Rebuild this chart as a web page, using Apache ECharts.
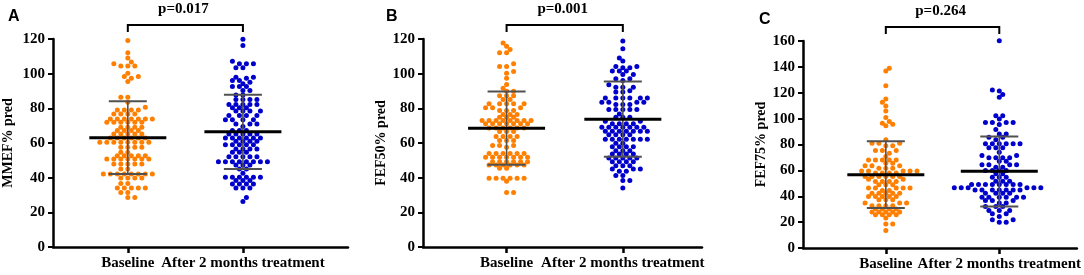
<!DOCTYPE html>
<html><head><meta charset="utf-8">
<script src="https://cdn.jsdelivr.net/npm/echarts@6/dist/echarts.min.js"></script>
<style>html,body{margin:0;padding:0;background:#fff}#c{width:1084px;height:275px}</style>
</head><body><div id="c"></div>
<script>
// ---------- DATA ----------
const categories = ['Baseline', 'After 2 months treatment'];
const panelLetters = ['A', 'B', 'C'];
const pValues = ['p=0.017', 'p=0.001', 'p=0.264'];
const yNames = ['MMEF% pred', 'FEF50% pred', 'FEF75% pred'];
const yMax = [120, 120, 160];
const yInterval = [20, 20, 20];

const mmefBaseline = [119.2, 112.0, 109.0, 106.7, 105.7, 104.4, 104.4, 104.4, 100.3, 98.4, 98.4, 97.4, 95.5,
  86.4, 86.4, 83.5, 80.6, 79.1, 79.1, 79.1, 79.1, 76.8, 76.8, 76.8, 76.8,
  73.9, 73.9, 73.9, 73.9, 73.9, 73.9, 73.9, 72.0, 72.0, 72.0, 72.0, 72.0, 72.0,
  69.1, 69.1, 69.1, 69.1, 67.2, 67.2, 67.2, 67.2, 65.2, 65.2, 65.2, 65.2, 65.2,
  62.9, 62.9, 62.9, 62.9, 62.9, 62.9, 60.4, 60.4, 60.4, 60.4, 60.4, 60.4, 60.4, 60.4,
  57.5, 57.5, 57.5, 57.5, 54.6, 54.6, 52.7, 52.7, 52.7, 52.7, 52.7,
  50.8, 50.8, 50.8, 50.8, 50.8, 50.8, 50.8, 47.9, 47.9, 47.9, 47.9, 47.9, 45.0, 45.0,
  42.1, 42.1, 42.1, 42.1, 42.1, 42.1, 42.1, 42.1, 39.8, 39.8, 39.8, 39.8, 36.7, 36.7,
  34.0, 34.0, 34.0, 34.0, 34.0, 31.5, 31.5, 28.6, 28.6];
const mmefAfter = [119.8, 116.3, 107.1, 105.7, 105.7, 105.7, 103.4, 103.4,
  98.0, 98.0, 97.4, 96.1, 96.1, 95.1, 94.2, 92.6, 92.6, 92.6, 90.3, 90.3, 87.7, 87.7,
  85.1, 85.1, 85.1, 85.1, 82.2, 82.2, 82.2, 82.2, 82.2, 80.3, 80.3, 80.3,
  78.4, 78.4, 78.4, 78.4, 75.9, 75.9, 75.9, 75.9, 73.4, 73.4, 73.4, 73.4,
  71.0, 71.0, 71.0, 69.5, 67.2, 67.2, 67.2, 65.2, 65.2, 65.2, 65.2, 65.2,
  62.9, 62.9, 62.9, 62.9, 62.9, 62.9, 61.0, 61.0, 61.0, 61.0, 59.0, 59.0, 59.0, 59.0, 59.0,
  56.5, 56.5, 56.5, 56.5, 54.6, 54.6, 54.6, 52.1, 52.1, 52.1, 52.1, 52.1,
  49.2, 49.2, 49.2, 49.2, 49.2, 49.2, 49.2, 49.2, 47.3, 47.3, 47.3, 45.0, 45.0, 42.5,
  40.2, 40.2, 40.2, 40.2, 40.2, 40.2, 38.3, 38.3, 38.3, 36.4, 36.4, 36.4, 36.4,
  34.0, 34.0, 34.0, 28.6, 26.3];
const fef50Baseline = [117.7, 115.8, 114.0, 112.1, 112.1, 105.7, 104.2, 104.2, 101.3, 100.3, 97.4, 93.8, 91.6,
  89.9, 89.9, 87.2, 87.2, 87.2, 85.1, 85.1, 82.6, 82.6, 82.6, 82.6, 82.6, 80.3, 80.3, 80.3,
  78.8, 78.8, 78.8, 76.5, 76.5, 76.5, 74.9, 74.9, 74.9,
  73.0, 73.0, 73.0, 73.0, 73.0, 73.0, 73.0, 73.0, 71.1, 71.1, 71.1, 71.1, 71.1, 71.1, 71.1,
  68.6, 68.6, 68.6, 68.6, 68.6, 68.6, 66.6, 66.6, 66.6, 63.7, 63.7, 63.7, 63.7,
  61.4, 61.4, 61.4, 58.5, 58.5, 58.5, 57.5, 54.0, 54.0, 54.0, 54.0, 54.0, 54.0,
  51.8, 51.8, 51.8, 51.8, 51.8, 51.8, 51.8, 49.2, 49.2, 49.2, 49.2, 49.2, 49.2,
  47.3, 47.3, 47.3, 47.3, 47.3, 47.3, 45.4, 45.4,
  39.6, 39.6, 39.6, 39.6, 39.6, 39.6, 37.9, 31.5, 31.5];
const fef50After = [118.9, 114.4, 109.0, 107.3, 104.2, 104.2, 103.4, 103.4, 101.5, 101.5, 101.5, 99.5, 99.5,
  97.0, 97.0, 96.0, 93.6, 92.2, 92.2, 92.2, 90.2, 89.4, 89.4,
  85.9, 85.9, 85.9, 85.9, 85.9, 85.9, 83.5, 83.5, 83.5, 83.5, 82.2, 82.2, 82.2,
  79.3, 79.3, 79.3, 79.3, 79.3, 76.8, 74.9, 74.9, 74.9, 72.6, 72.6, 71.1, 71.1, 71.1, 71.1,
  69.1, 69.1, 69.1, 69.1, 69.1, 69.1, 69.1, 66.8, 66.8, 66.8, 66.8, 66.8, 66.8, 66.8,
  64.7, 64.7, 64.7, 64.7, 62.2, 62.2, 62.2, 62.2, 62.2, 62.2, 62.2, 59.9, 59.9,
  57.9, 57.9, 57.9, 57.9, 55.6, 55.6, 55.6, 53.7, 53.7, 53.7, 53.7,
  51.4, 51.4, 51.4, 51.4, 51.4, 49.2, 49.2, 49.2, 49.2, 46.9, 46.9, 46.9,
  45.0, 45.0, 45.0, 43.7, 43.7, 41.2, 41.2, 38.3, 38.3, 34.0];
const fef75Baseline = [138.9, 136.8, 125.5, 115.2, 112.6, 109.8, 105.9, 100.8, 97.7, 96.5, 95.6, 94.4, 83.6,
  81.0, 81.0, 81.0, 79.0, 79.0, 75.3, 75.3, 75.3, 73.3, 70.7, 68.1, 68.1, 68.1, 68.1, 68.1,
  65.6, 65.6, 63.5, 63.5, 63.5, 61.7, 61.7, 61.7, 59.6, 59.6, 59.6, 59.6, 59.6,
  57.9, 57.9, 57.9, 57.9, 55.3, 55.3, 55.3, 55.3, 55.3, 55.3, 53.2, 53.2,
  51.4, 51.4, 51.4, 51.4, 48.8, 48.8, 48.8, 46.3, 46.3, 46.3, 46.3, 46.3, 44.5, 44.5,
  42.4, 42.4, 42.4, 42.4, 42.4, 39.9, 39.9, 39.9, 39.9, 39.9, 37.3, 37.3, 37.3,
  34.7, 34.7, 34.7, 32.7, 32.7, 32.7, 32.7, 30.1, 30.1, 30.1, 30.1,
  27.8, 27.8, 27.8, 27.8, 27.8, 25.7, 25.7, 25.7, 25.7, 23.2, 18.5, 18.5, 13.6];
const fef75After = [160.2, 122.1, 121.4, 118.6, 116.5, 102.3, 102.3, 99.7, 97.1, 97.1, 97.1, 97.1, 95.4, 91.5,
  88.2, 88.2, 85.6, 85.6, 83.6, 80.5, 80.5, 80.5, 80.5, 80.5, 80.5, 77.4, 77.4, 77.4, 74.1,
  71.5, 71.5, 69.7, 69.7, 69.7, 69.7, 67.1, 67.1, 64.3, 64.3, 64.3, 64.3, 62.5, 62.5,
  59.9, 59.9, 59.9, 59.9, 57.3, 57.3, 54.7, 54.7, 54.7, 51.6, 51.6, 51.6,
  49.1, 49.1, 49.1, 49.1, 49.1, 49.1, 49.1, 49.1, 46.5, 46.5, 46.5, 46.5, 46.5, 46.5,
  44.9, 44.9, 44.9, 44.9, 44.9, 44.9, 44.9, 42.4, 42.4, 42.4, 42.4,
  39.3, 39.3, 39.3, 39.3, 39.3, 39.3, 36.7, 36.7, 36.7, 34.7, 34.7, 32.1, 32.1, 32.1,
  29.0, 29.0, 29.0, 26.4, 26.4, 24.4, 21.8, 21.8, 20.0, 20.0];

// mean, mean-SD, mean+SD
const mmefStats  = [[63.0, 42.1, 84.1], [66.5, 45.0, 87.8]];
const fef50Stats = [[68.5, 47.5, 89.7], [73.7, 52.1, 95.5]];
const fef75Stats = [[56.6, 30.9, 82.6], [59.4, 32.1, 86.1]];

// ---------- LAYOUT ----------
const panels = [
  {grid: {left: 53, top: 39, width: 295, height: 208}, xMin: -0.65, xMax: 1.913, nameGap: 38,
   base: mmefBaseline, after: mmefAfter, stats: mmefStats, letterLeft: 3},
  {grid: {left: 423, top: 39, width: 279, height: 208}, xMin: -0.719, xMax: 1.681, nameGap: 28,
   base: fef50Baseline, after: fef50After, stats: fef50Stats, letterLeft: 381},
  {grid: {left: 803, top: 41, width: 277, height: 207}, xMin: -0.73, xMax: 1.684, nameGap: 28,
   base: fef75Baseline, after: fef75After, stats: fef75Stats, letterLeft: 754}
];
const ORANGE = '#ff7f00', BLUE = '#0000cc';
const SERIF = 'Liberation Serif', SANS = 'Liberation Sans';
const STEP = 3.5, DIST = 4.4;

// beeswarm on a 3.5px column grid with collision avoidance (pixel space)
function swarm(values, cat, pxPerX, pxPerY) {
  const sorted = values.slice().sort((a, b) => a - b);
  const placed = [];
  const cands = [0];
  for (let k = 1; k <= 14; k++) { cands.push(k, -k); }
  let flip = 1;
  const pts = [];
  for (const v of sorted) {
    const yp = v * pxPerY;
    const near = placed.filter(p => Math.abs(p[1] - yp) < DIST);
    let best = null;
    for (let j = 0; j < cands.length; j++) {
      const xp = cands[j] * flip * STEP;
      if (near.every(p => (p[0] - xp) ** 2 + (p[1] - yp) ** 2 >= DIST * DIST - 0.01)) { best = xp; break; }
    }
    if (best === null) best = 0;
    if (best !== 0) flip = -Math.sign(best);
    placed.push([best, yp]);
    pts.push([cat + best / pxPerX, v]);
  }
  return pts;
}

const grids = [], xAxes = [], yAxes = [], series = [], titles = [];
panels.forEach((p, i) => {
  grids.push(p.grid);
  const pxPerX = p.grid.width / (p.xMax - p.xMin);
  const pxPerY = p.grid.height / yMax[i];
  xAxes.push({
    type: 'value', gridIndex: i, min: p.xMin, max: p.xMax,
    splitLine: {show: false},
    axisLine: {show: true, onZero: false, lineStyle: {color: '#000', width: 2.5}},
    axisTick: {show: true, customValues: [0, 1], length: 6, lineStyle: {color: '#000', width: 2.5}},
    axisLabel: {show: true, customValues: [0, 1], formatter: v => categories[Math.round(v)],
      margin: 9, color: '#000', fontFamily: SERIF, fontWeight: 'bold', fontSize: 15}
  });
  yAxes.push({
    type: 'value', gridIndex: i, min: 0, max: yMax[i], interval: yInterval[i],
    name: yNames[i], nameLocation: 'middle', nameGap: p.nameGap,
    nameTextStyle: {color: '#000', fontFamily: SERIF, fontWeight: 'bold', fontSize: 14},
    splitLine: {show: false},
    axisLine: {show: true, onZero: false, lineStyle: {color: '#000', width: 2.5}},
    axisTick: {show: true, length: 5, lineStyle: {color: '#000', width: 2}},
    axisLabel: {margin: 8, color: '#000', fontFamily: SERIF, fontWeight: 'bold', fontSize: 15}
  });
  [[p.base, ORANGE], [p.after, BLUE]].forEach(([vals, col], c) => {
    series.push({
      type: 'scatter', xAxisIndex: i, yAxisIndex: i, symbolSize: 5, z: 2, clip: false,
      itemStyle: {color: col, opacity: 1}, silent: true,
      data: swarm(vals, c, pxPerX, pxPerY)
    });
  });
  series.push({
    type: 'custom', xAxisIndex: i, yAxisIndex: i, z: 5, silent: true, clip: false,
    data: p.stats.map((s, c) => [c, s[0], s[1], s[2]]),
    renderItem: (params, api) => {
      const x = api.value(0);
      const cm = api.coord([x, api.value(1)]);
      const cl = api.coord([x, api.value(2)]);
      const ch = api.coord([x, api.value(3)]);
      const gray = '#505050';
      return {type: 'group', children: [
        {type: 'line', shape: {x1: cm[0], y1: cl[1], x2: cm[0], y2: ch[1]}, style: {stroke: gray, lineWidth: 1.6}},
        {type: 'line', shape: {x1: cm[0] - 19, y1: ch[1], x2: cm[0] + 19, y2: ch[1]}, style: {stroke: gray, lineWidth: 2}},
        {type: 'line', shape: {x1: cm[0] - 19, y1: cl[1], x2: cm[0] + 19, y2: cl[1]}, style: {stroke: gray, lineWidth: 2}},
        {type: 'line', shape: {x1: cm[0] - 38.5, y1: cm[1], x2: cm[0] + 38.5, y2: cm[1]}, style: {stroke: '#000', lineWidth: 3}}
      ]};
    }
  });
  // significance bracket + p-value
  series.push({
    type: 'custom', xAxisIndex: i, yAxisIndex: i, z: 5, silent: true, clip: false,
    data: [[0, 1, yMax[i]]],
    renderItem: (params, api) => {
      const a = api.coord([api.value(0), api.value(2)]);
      const b = api.coord([api.value(1), api.value(2)]);
      const top = a[1];
      return {type: 'group', children: [
        {type: 'polyline', shape: {points: [[a[0], top - 7], [a[0], top - 14], [b[0], top - 14], [b[0], top - 7]]},
          style: {stroke: '#000', lineWidth: 2, fill: null}},
        {type: 'text', style: {text: pValues[i], x: (a[0] + b[0]) / 2 - 2, y: top - 30,
          align: 'center', verticalAlign: 'middle', fill: '#000',
          font: 'bold 15px "Liberation Serif"'}}
      ]};
    }
  });
  titles.push({text: panelLetters[i], left: p.letterLeft, top: i === 2 ? 7 : 4,
    textStyle: {fontFamily: SANS, fontWeight: 'bold', fontSize: 16, color: '#000'}});
});

const chart = echarts.init(document.getElementById('c'), null, {renderer: 'canvas'});
chart.setOption({
  backgroundColor: '#fff', animation: false,
  title: titles, grid: grids, xAxis: xAxes, yAxis: yAxes, series: series
});
</script></body></html>
